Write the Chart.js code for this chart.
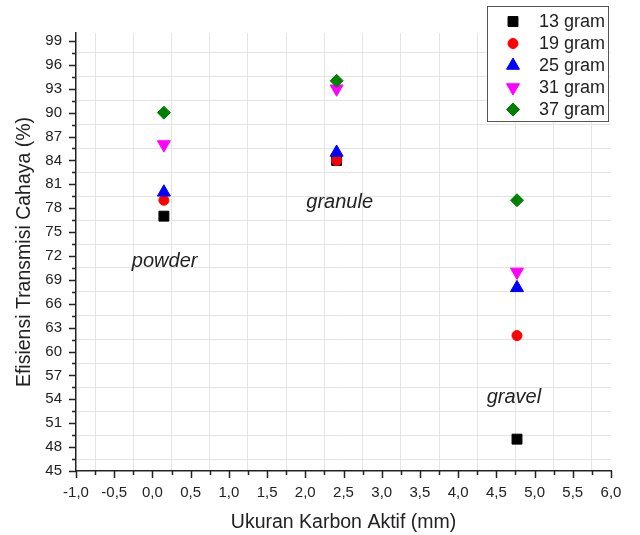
<!DOCTYPE html>
<html>
<head>
<meta charset="utf-8">
<script src="https://cdn.jsdelivr.net/npm/chart.js@4/dist/chart.umd.min.js"></script>
<style>
  html, body { margin: 0; padding: 0; background: #ffffff; }
  #wrap { position: relative; width: 640px; height: 535px; }
</style>
</head>
<body>
<div id="wrap"><canvas id="chart" width="640" height="535"></canvas></div>
<script>
// Activated-carbon particle size (mm) for each size class
const sizeClasses = ['powder', 'granule', 'gravel'];
const particleSizes = [0.15, 2.41, 4.77];

// Light transmission efficiency (%) per carbon mass
const seriesNames = ['13 gram', '19 gram', '25 gram', '31 gram', '37 gram'];
const gram13 = [77, 84, 49];
const gram19 = [79, 84, 62];
const gram25 = [80, 85, 68];
const gram31 = [86, 93, 70];
const gram37 = [90, 94, 79];

// Where each size-class caption sits, in axis units
const captionX = [0.16, 2.45, 4.73];
const captionY = [71.3, 78.7, 54.2];

// Labelled ticks
const xTickValues = [-1.0, -0.5, 0.0, 0.5, 1.0, 1.5, 2.0, 2.5, 3.0, 3.5, 4.0, 4.5, 5.0, 5.5, 6.0];
const yTickValues = [45, 48, 51, 54, 57, 60, 63, 66, 69, 72, 75, 78, 81, 84, 87, 90, 93, 96, 99];

const FONT = "'Liberation Sans', Arial, sans-serif";
const TEXT = '#222222';
const GRID = '#e4e4e4';

const seriesValues = [gram13, gram19, gram25, gram31, gram37];
const markerStyles = [
  { color: '#000000', pointStyle: 'rect', radius: 7, rotation: 0 },
  { color: '#ff0000', pointStyle: 'circle', radius: 5, rotation: 0 },
  { color: '#0000ff', pointStyle: 'triangle', radius: 7.5, rotation: 0 },
  { color: '#ff00ff', pointStyle: 'triangle', radius: 7.5, rotation: 180 },
  { color: '#008000', pointStyle: 'rectRot', radius: 6.5, rotation: 0 }
];

// Major ticks plus a minor tick halfway between each pair
function withMinor(majors) {
  const out = [];
  majors.forEach((v, i) => {
    out.push(v);
    if (i < majors.length - 1) out.push((v + majors[i + 1]) / 2);
  });
  return out;
}
const xAllTicks = withMinor(xTickValues);
const yAllTicks = withMinor(yTickValues);
const isMajor = (list, v) => list.some(m => Math.abs(m - v) < 1e-9);

// Later series are drawn over earlier ones
const datasets = seriesNames.map((name, i) => ({
  label: name,
  data: particleSizes.map((x, j) => ({ x: x, y: seriesValues[i][j] })),
  order: seriesNames.length - i,
  backgroundColor: markerStyles[i].color,
  borderColor: markerStyles[i].color,
  borderWidth: 1,
  pointStyle: markerStyles[i].pointStyle,
  pointRadius: markerStyles[i].radius,
  pointHoverRadius: markerStyles[i].radius,
  pointRotation: markerStyles[i].rotation,
  showLine: false
}));

// Short outward tick marks on both axes
const tickMarks = {
  id: 'tickMarks',
  afterDraw(chart) {
    const { ctx, scales: { x, y } } = chart;
    ctx.save();
    ctx.strokeStyle = TEXT;
    ctx.lineWidth = 1.5;
    x.ticks.forEach(t => {
      const px = Math.round(x.getPixelForValue(t.value)) + 0.5;
      const len = isMajor(xTickValues, t.value) ? 7 : 4;
      ctx.beginPath();
      ctx.moveTo(px, x.top);
      ctx.lineTo(px, x.top + len);
      ctx.stroke();
    });
    y.ticks.forEach(t => {
      const py = Math.round(y.getPixelForValue(t.value)) + 0.5;
      const len = isMajor(yTickValues, t.value) ? 7 : 4;
      ctx.beginPath();
      ctx.moveTo(y.right, py);
      ctx.lineTo(y.right - len, py);
      ctx.stroke();
    });
    ctx.restore();
  }
};

// Italic captions naming each particle size class
const classCaptions = {
  id: 'classCaptions',
  afterDatasetsDraw(chart) {
    const { ctx, scales: { x, y } } = chart;
    ctx.save();
    ctx.font = 'italic 20px ' + FONT;
    ctx.fillStyle = TEXT;
    ctx.textAlign = 'center';
    ctx.textBaseline = 'middle';
    sizeClasses.forEach((name, i) => {
      ctx.fillText(name, x.getPixelForValue(captionX[i]), y.getPixelForValue(captionY[i]));
    });
    ctx.restore();
  }
};

// Boxed legend in the top-right corner
const boxLegend = {
  id: 'boxLegend',
  afterDraw(chart) {
    const { ctx } = chart;
    const left = 487.5, top = 6.5, w = 121, h = 115;
    ctx.save();
    ctx.fillStyle = '#ffffff';
    ctx.fillRect(left, top, w, h);
    ctx.strokeStyle = '#555555';
    ctx.lineWidth = 1;
    ctx.strokeRect(left, top, w, h);
    ctx.font = '18px ' + FONT;
    ctx.textBaseline = 'middle';
    ctx.textAlign = 'left';
    chart.data.datasets.forEach((ds, i) => {
      const cy = 21.5 + i * 22;
      ctx.fillStyle = ds.backgroundColor;
      ctx.strokeStyle = ds.borderColor;
      ctx.lineWidth = 1;
      Chart.helpers.drawPoint(ctx, {
        pointStyle: ds.pointStyle,
        radius: ds.pointRadius,
        rotation: ds.pointRotation,
        borderWidth: 1
      }, 513, cy);
      ctx.fillStyle = TEXT;
      ctx.fillText(ds.label, 539, cy + 1);
    });
    ctx.restore();
  }
};

new Chart(document.getElementById('chart'), {
  type: 'scatter',
  data: { datasets: datasets },
  plugins: [tickMarks, classCaptions, boxLegend],
  options: {
    responsive: false,
    animation: false,
    devicePixelRatio: 1,
    layout: { padding: { top: 33, right: 29, left: 0, bottom: 0 } },
    plugins: { legend: { display: false }, tooltip: { enabled: false } },
    events: [],
    scales: {
      x: {
        type: 'linear',
        min: -1,
        max: 6,
        afterBuildTicks: s => { s.ticks = xAllTicks.map(v => ({ value: v })); },
        afterFit: s => { s.height = 64; },
        ticks: {
          autoSkip: false,
          maxRotation: 0,
          padding: 13,
          color: TEXT,
          font: { family: FONT, size: 15 },
          callback: v => isMajor(xTickValues, v) ? v.toFixed(1).replace('.', ',') : ''
        },
        grid: {
          drawTicks: false,
          color: c => (c.tick && !isMajor(xTickValues, c.tick.value)) ? GRID : 'rgba(0,0,0,0)',
          lineWidth: 1
        },
        border: { display: true, color: TEXT, width: 1.5 },
        title: {
          display: true,
          text: 'Ukuran Karbon Aktif (mm)',
          color: TEXT,
          font: { family: FONT, size: 19.5 },
          padding: { top: 0, bottom: 1 }
        }
      },
      y: {
        type: 'linear',
        min: 45,
        max: 100,
        afterBuildTicks: s => { s.ticks = yAllTicks.map(v => ({ value: v })); },
        afterFit: s => { s.width = 76; },
        ticks: {
          autoSkip: false,
          padding: 14,
          color: TEXT,
          font: { family: FONT, size: 15 },
          callback: v => isMajor(yTickValues, v) ? String(v) : ''
        },
        grid: {
          drawTicks: false,
          color: c => (c.tick && !isMajor(yTickValues, c.tick.value)) ? GRID : 'rgba(0,0,0,0)',
          lineWidth: 1
        },
        border: { display: true, color: TEXT, width: 1.5 },
        title: {
          display: true,
          text: 'Efisiensi Transmisi Cahaya (%)',
          color: TEXT,
          font: { family: FONT, size: 19.5 },
          padding: { top: 13, bottom: 0 }
        }
      }
    }
  }
});
</script>
</body>
</html>
